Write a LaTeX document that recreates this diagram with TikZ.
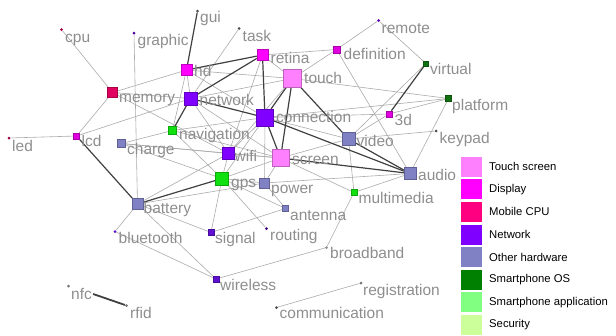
\documentclass[tikz,border=0pt]{standalone}
\usepackage{fontspec}
\setmainfont{Liberation Sans}
\pgfdeclarelayer{edges}
\pgfsetlayers{edges,main}
\definecolor{touchc}{HTML}{FF80FF}
\definecolor{dispc}{HTML}{FF00FF}
\definecolor{cpuc}{HTML}{FF0080}
\definecolor{netc}{HTML}{8000FF}
\definecolor{hwc}{HTML}{8080C4}
\definecolor{osc}{HTML}{008000}
\definecolor{appc}{HTML}{80FF80}
\definecolor{secc}{HTML}{CCFF99}
\definecolor{appnode}{HTML}{10E010}
\definecolor{osnode}{HTML}{107010}
\definecolor{sigc}{HTML}{6010D0}
\definecolor{smallmag}{HTML}{E000E0}
\definecolor{memc}{HTML}{E00060}
\definecolor{labelgray}{HTML}{8E8E8E}
\definecolor{edgegray}{HTML}{ABABAB}
\tikzset{
  sq/.style={rectangle,inner sep=0pt,line width=0.4pt},
  dotnode/.style={circle,inner sep=0pt,minimum size=3pt},
  lbl/.style={anchor=base west,inner sep=0pt,text=labelgray,font=\fontsize{15.5}{15.5}\selectfont},
  thin edge/.style={draw=edgegray,line width=0.6pt},
  heavy edge/.style={draw=black!75,line width=1.2pt},
  legbox/.style={rectangle,inner sep=0pt,minimum width=21pt,minimum height=20pt},
  legtext/.style={anchor=west,inner sep=0pt,font=\fontsize{11.3}{11.3}\selectfont},
}
% square node: name, position, size, colour, text, text position (base west)
\newcommand\gsq[6]{%
  \node[sq,minimum size=#3pt,fill=#4,draw=#4!75!black] (#1) at (#2) {};
  \node[lbl] (#1-t) at (#6) {#5};}
% small dot node: name, position, colour, text, text position
\newcommand\gdot[5]{%
  \node[dotnode,fill=#3] (#1) at (#2) {};
  \node[lbl] (#1-t) at (#5) {#4};}
\begin{document}
\begin{tikzpicture}[x=1pt,y=-1pt]
\useasboundingbox (0,0) rectangle (616,335);

% ---- nodes ----
\gdot{gui}{197.5,11}{black!70}{gui}{200,22}
\gdot{cpu}{61.5,29.5}{memc!70!black}{cpu}{65,42}
\gdot{graphic}{134,33}{netc!60!black}{graphic}{137.5,45}
\gdot{task}{239,28.5}{black!70}{task}{242.5,41.5}
\gdot{remote}{378.5,20.5}{netc!70!black}{remote}{381.5,33}
\gsq{definition}{336.5,49.5}{7}{smallmag}{definition}{343.5,59}
\gsq{retina}{262.5,55}{11}{dispc}{retina}{270.5,63}
\gsq{hd}{186.5,70}{11}{dispc}{hd}{194,76.5}
\gsq{touch}{292.5,78.5}{18}{touchc}{touch}{304,83.5}
\gsq{virtual}{426,63.5}{5}{osnode}{virtual}{430,74}
\gsq{memory}{112.5,92.5}{10}{memc}{memory}{119,102}
\gsq{network}{190.5,98.5}{13}{netc}{network}{199.5,105}
\gsq{platform}{448.5,98.5}{6}{osnode}{platform}{452,110}
\gsq{3d}{389,114}{6}{smallmag}{3d}{394.5,125}
\gsq{connection}{265,117.5}{17}{netc}{connection}{276,122.5}
\gsq{navigation}{172.5,130.5}{8}{appnode}{navigation}{179,139}
\gdot{led}{9,138}{memc!70!black}{led}{12,151.5}
\gsq{lcd}{76.5,136}{6}{smallmag}{lcd}{81.5,146.5}
\gdot{keypad}{436,131}{black!70}{keypad}{439.5,143.5}
\gsq{video}{348.5,139}{13}{hwc}{video}{356.5,146.5}
\gsq{charge}{121.5,143.5}{8}{hwc}{charge}{127,154}
\gsq{wifi}{228.5,153.5}{12}{netc}{wifi}{234.5,161}
\gsq{screen}{280.5,158}{17}{touchc}{screen}{292,164}
\gsq{audio}{410,173.5}{12}{hwc}{audio}{418,180}
\gsq{gps}{222,178.5}{13}{appnode}{gps}{231,187}
\gsq{power}{264.5,183}{10}{hwc}{power}{271,193}
\gsq{multimedia}{354,192.5}{6}{appnode}{multimedia}{358.5,203.5}
\gsq{battery}{137.5,204}{11}{hwc}{battery}{143.5,213.5}
\gsq{antenna}{285.5,208.5}{6}{hwc}{antenna}{290,220}
\gdot{bluetooth}{115,231.5}{sigc}{bluetooth}{118.5,243.5}
\gsq{signal}{211,232.5}{6}{sigc}{signal}{215,243.5}
\gdot{routing}{266.5,228.5}{netc!50!black}{routing}{270,240}
\gdot{broadband}{326.5,247.5}{black!45}{broadband}{330,258.5}
\gsq{wireless}{216,279}{6}{sigc}{wireless}{220,290}
\gdot{nfc}{68.5,286}{black!55}{nfc}{71,299.5}
\gdot{rfid}{126.5,305.5}{black!55}{rfid}{130,318.5}
\gdot{registration}{361,283}{black!55}{registration}{363,295}
\gdot{communication}{276.5,307.5}{black!70}{communication}{279.5,318.5}

% ---- connectors ----
\begin{pgfonlayer}{edges}
\foreach \a/\b in {cpu/memory, graphic/battery, memory/lcd, lcd/network, led/lcd,
  memory/hd, memory/network, memory/wifi, hd/navigation, hd/touch, hd/network,
  task/network, retina/touch, retina/definition, touch/definition,
  remote/definition, remote/virtual, virtual/video, touch/platform,
  connection/platform, 3d/platform, platform/audio, keypad/video,
  definition/audio, connection/video, screen/video, video/multimedia,
  screen/multimedia, multimedia/audio, power/audio, multimedia/broadband,
  broadband/wireless, charge/navigation, charge/screen, charge/gps,
  charge/wifi, battery/wifi, battery/power, battery/signal,
  battery/bluetooth, battery/wireless, bluetooth/wireless,
  navigation/connection, navigation/screen, navigation/gps, wifi/gps,
  wifi/screen, wifi/connection, gps/screen, gps/power, gps/antenna,
  gps/signal, gps/routing, gps/connection, power/connection, power/screen,
  power/antenna, antenna/signal, registration/communication,
  network/touch, network/wifi, network/screen, connection/3d, 3d/video,
  hd/connection, retina/wifi, touch/wifi}
  \path[thin edge] (\a) -- (\b);
\foreach \a/\b in {gui/hd, hd/retina, network/retina, retina/connection,
  touch/connection, touch/screen, touch/video, connection/screen,
  connection/audio, video/audio, screen/audio, network/connection,
  network/navigation, battery/gps, lcd/battery, virtual/3d}
  \path[heavy edge] (\a) -- (\b);
\path[heavy edge,line width=1.8pt] ([xshift=1pt]nfc-t.east) -- (rfid);
\end{pgfonlayer}

% ---- legend ----
\foreach \c/\t [count=\i from 0] in {touchc/Touch screen, dispc/Display,
  cpuc/Mobile CPU, netc/Network, hwc/Other hardware, osc/Smartphone OS,
  appc/Smartphone application, secc/Security} {
  \node[legbox,fill=\c] (leg\i) at (471.5,166.7+22.6*\i) {};
  \node[legtext] (legt\i) at (489,166.7+22.6*\i) {\t};
}
\end{tikzpicture}
\end{document}
